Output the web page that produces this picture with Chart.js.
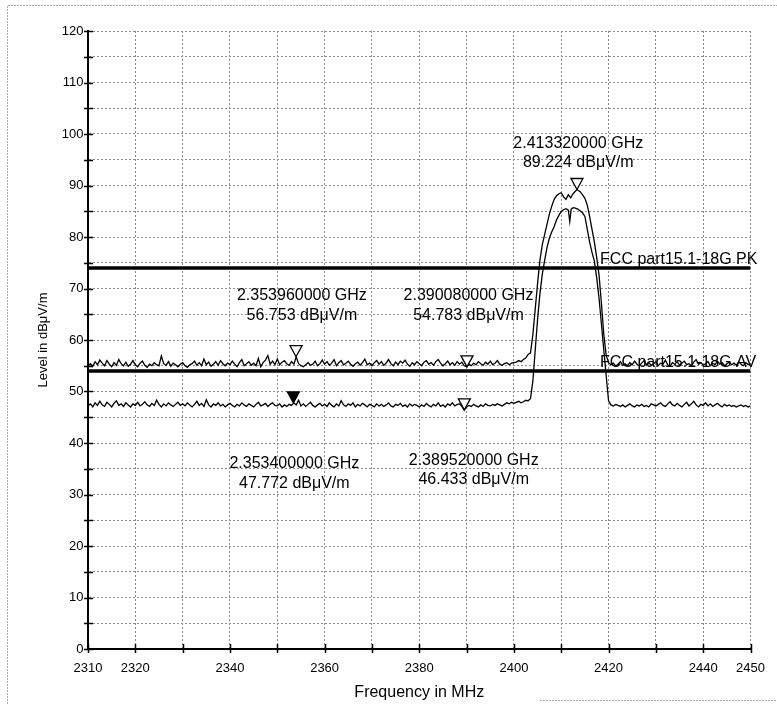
<!DOCTYPE html>
<html>
<head>
<meta charset="utf-8">
<script src="https://cdn.jsdelivr.net/npm/chart.js@4"></script>
<style>
  html, body { margin:0; padding:0; background:#fff; }
  #wrap { position:relative; width:777px; height:704px; }
</style>
</head>
<body>
<div id="wrap"><canvas id="chart"></canvas></div>
<script>
// 1) Data
const sweepStep = 0.5;          // MHz between samples of the noise floor
const leftStart = 2310;         // first sample of left noise segment
const rightStart = 2420.5;      // first sample of right noise segment

// peak detector trace
const pkLeft = [
  55.0,55.4,54.9,55.8,55.2,56.1,55.5,55.0,56.0,55.3,54.8,55.6,55.1,56.2,55.4,55.0,55.7,54.9,55.3,56.0,
  55.2,54.8,55.5,55.9,55.1,54.7,55.3,55.0,55.6,55.2,55.0,56.9,55.4,55.1,55.8,54.9,55.5,55.2,54.8,55.3,
  55.6,55.0,54.7,55.2,55.4,55.9,55.1,55.6,55.0,56.3,55.2,55.7,54.9,55.3,55.8,55.1,56.0,55.4,55.0,55.5,
  55.2,55.9,55.3,54.8,55.6,56.2,55.0,55.4,55.8,55.1,55.5,55.0,56.4,54.8,55.6,56.1,57.0,55.3,55.9,55.2,
  56.3,55.2,55.7,56.0,55.4,55.1,55.8,55.3,56.75,55.4,55.0,54.8,55.2,55.6,55.1,55.3,55.9,55.0,55.4,56.1,
  55.3,55.8,55.1,55.5,56.2,55.0,55.6,56.0,55.2,55.5,55.9,55.3,54.9,55.4,55.7,55.1,55.6,56.3,55.2,55.5,
  55.0,55.6,56.0,55.3,55.8,55.1,55.5,56.2,55.4,55.0,55.7,55.2,55.9,55.5,56.1,55.3,54.9,55.6,55.2,55.8,
  55.4,55.0,55.7,56.0,55.3,55.6,55.1,55.8,56.2,55.5,55.0,55.4,55.9,55.2,55.6,55.1,55.8,55.3,55.7,55.0,
  54.8,55.3,55.0,55.5,55.2,55.8,55.4,55.1,55.7,55.3,55.9,55.2,55.5,56.0,55.3,55.1,55.4,55.6,55.2,55.5,
  55.6,55.7,56.0,55.8,56.2,56.5,57.2,57.5
];
const pkSigFreq  = [2404,2404.5,2405,2405.5,2406,2406.5,2407,2407.5,2408,2408.5,2409,2409.5,2410,2410.5,2411,2411.5,2412,2412.5,2413.32,2414,2414.5,2415,2415.5,2416,2416.5,2417,2417.5,2418,2418.5,2419,2419.5,2420];
const pkSigLevel = [61,66,71,75.5,78.5,80.5,82.5,84.5,86,87.3,88,88.4,88.6,87.8,87.3,88.2,87.6,88.4,89.22,88.8,88.2,87.5,86.2,84,81.5,79,76,72.5,67,61,57,55.6];
const pkRight = [
  55.2,55.5,54.9,55.3,55.8,55.1,55.4,55.0,55.6,55.2,55.9,55.3,55.0,55.5,56.0,55.2,55.6,55.1,55.4,55.8,
  55.0,55.5,55.3,56.1,55.2,54.9,55.6,55.3,55.8,55.1,55.5,55.9,55.2,55.4,55.0,55.7,56.2,55.3,55.6,55.1,
  55.4,55.8,55.0,55.5,55.2,55.9,55.3,55.6,55.0,55.4,55.7,55.2,55.5,55.1,55.8,55.3,55.0,55.6,55.2,55.4
];

// average detector trace
const avLeft = [
  47.2,47.6,47.0,47.8,47.3,48.1,47.4,47.1,47.9,47.5,47.0,47.7,48.2,47.3,47.6,47.1,47.8,47.4,47.0,47.6,
  47.3,47.9,47.2,47.5,48.0,47.4,47.1,47.7,47.3,48.3,47.5,47.0,47.6,47.2,47.8,47.4,47.1,47.5,47.9,47.3,
  47.6,47.2,47.8,47.4,47.0,47.5,48.1,47.3,47.7,47.1,48.4,47.4,47.0,47.6,47.3,47.8,47.2,47.5,47.0,47.4,
  47.7,47.3,47.0,47.5,47.2,47.8,47.4,47.1,47.6,47.3,47.0,47.5,47.9,47.2,47.4,47.7,47.1,47.5,47.8,47.3,
  47.2,47.6,47.0,47.4,47.1,47.5,47.3,47.8,47.4,48.3,47.2,47.6,47.1,47.5,47.9,47.3,47.0,47.4,47.7,47.2,
  47.5,47.1,47.8,47.3,47.0,47.6,47.2,48.2,47.4,47.1,47.6,47.3,47.8,47.0,47.5,47.2,47.7,47.4,47.0,47.5,
  47.3,47.0,47.6,47.2,47.5,47.1,47.4,47.8,47.2,47.0,47.5,47.3,47.7,47.1,47.4,47.0,47.6,47.2,47.5,47.3,
  47.0,47.4,47.1,47.7,47.3,47.0,47.5,47.2,47.8,47.1,47.4,47.0,47.6,47.3,47.8,47.2,47.5,47.6,47.1,46.4,
  47.0,47.3,47.1,47.5,47.2,47.0,47.4,47.1,47.6,47.3,47.2,47.5,47.3,47.6,47.4,47.2,47.5,47.8,47.6,47.9,
  47.7,47.9,48.1,47.8,48.0,48.3,48.2,48.6
];
const avSigFreq  = [2404,2404.5,2405,2405.5,2406,2406.5,2407,2407.5,2408,2408.5,2409,2409.5,2410,2410.5,2411,2411.5,2411.8,2412.1,2412.5,2413,2413.5,2414,2414.5,2415,2415.5,2416,2416.5,2417,2417.5,2418,2418.5,2419,2419.5,2420];
const avSigLevel = [52,58,64,69,72.8,75.5,78,79.8,81,82,83.3,84.2,85,85.3,85.5,85.2,83,85.4,85.7,85.6,85.4,85.1,84.7,84,81.5,79,77,75.3,72,68,63,58,53,48.2];
const avRight = [
  47.4,47.2,47.5,47.3,47.1,47.4,47.0,47.3,47.6,47.2,47.0,47.4,47.2,47.5,47.1,47.3,47.0,47.6,47.4,47.2,
  47.5,47.8,47.3,47.1,47.6,48.0,47.4,47.2,47.7,47.3,47.0,47.5,47.9,47.2,47.6,48.1,47.4,47.0,47.5,47.3,
  47.8,47.2,47.6,47.1,47.4,47.7,47.3,47.0,47.5,47.2,47.4,47.1,47.3,47.0,47.2,47.4,47.1,47.3,47.0,47.2
];

// limit lines
const limitNames  = ['FCC part15.1-18G PK', 'FCC part15.1-18G AV'];
const limitLevels = [74, 54];

// markers
const markerFreqs  = [2413.32, 2353.96, 2390.08, 2353.40, 2389.52];
const markerLevels = [89.224, 56.753, 54.783, 47.772, 46.433];
const markerFilled = [false, false, false, true, false];

// axis ticks
const xTickValues = [2310,2320,2330,2340,2350,2360,2370,2380,2390,2400,2410,2420,2430,2440,2450];
const xTickLabels = [2310,2320,2340,2360,2380,2400,2420,2440,2450];

// 2) Layout of the text boxes (data units for the first line centre)
const markerTextPos = [
  {x: 2413.6, y: 98.2},
  {x: 2355.2, y: 68.6},
  {x: 2390.4, y: 68.6},
  {x: 2353.6, y: 36.0},
  {x: 2391.5, y: 36.6}
];
const limitTextFreq = 2418.2;
const FONT = "'Liberation Sans', Arial, sans-serif";

// 3) Helpers
function seg(start, vals){ return vals.map((v,i)=>({x: start + i*sweepStep, y: v})); }
function pairs(xs, ys){ return xs.map((x,i)=>({x, y: ys[i]})); }

const pkData = seg(leftStart, pkLeft).concat(pairs(pkSigFreq, pkSigLevel), seg(rightStart, pkRight));
const avData = seg(leftStart, avLeft).concat(pairs(avSigFreq, avSigLevel), seg(rightStart, avRight));

// 4) Plugins
const framePlugin = {
  id:'frame',
  beforeDraw(chart){
    const c = chart.ctx;
    c.save();
    c.strokeStyle = '#aaa'; c.lineWidth = 1; c.setLineDash([2,1]);
    c.beginPath();
    c.moveTo(7.5, 704); c.lineTo(7.5, 5.5); c.lineTo(777, 5.5);
    c.moveTo(540, 700.5); c.lineTo(777, 700.5);
    c.stroke();
    c.restore();
  }
};

const axisTickPlugin = {
  id:'axisTicks',
  afterDraw(chart){
    const c = chart.ctx, xs = chart.scales.x, ys = chart.scales.y;
    const a = chart.chartArea;
    c.save();
    c.strokeStyle = '#000'; c.lineWidth = 1.5;
    c.beginPath();
    ys.ticks.forEach(t => { const y = Math.round(ys.getPixelForValue(t.value)) + 0.5; c.moveTo(a.left-4, y); c.lineTo(a.left+5, y); });
    xs.ticks.forEach(t => { const x = Math.round(xs.getPixelForValue(t.value)) + 0.5; c.moveTo(x, a.bottom-5); c.lineTo(x, a.bottom+4); });
    c.stroke();
    c.restore();
  }
};

const markerPlugin = {
  id:'markers',
  afterDatasetsDraw(chart){
    const c = chart.ctx, xs = chart.scales.x, ys = chart.scales.y;
    c.save();
    // limit line names
    c.font = '16px ' + FONT; c.fillStyle = '#000';
    c.textAlign = 'left'; c.textBaseline = 'alphabetic';
    limitNames.forEach((n,i)=>{
      c.fillText(n, xs.getPixelForValue(limitTextFreq), ys.getPixelForValue(limitLevels[i]) - 4);
    });
    // marker triangles
    markerFreqs.forEach((f,i)=>{
      const px = xs.getPixelForValue(f), py = ys.getPixelForValue(markerLevels[i]);
      c.beginPath();
      c.moveTo(px, py); c.lineTo(px-6, py-11); c.lineTo(px+6, py-11); c.closePath();
      c.fillStyle = markerFilled[i] ? '#000' : '#fff';
      c.fill();
      c.lineWidth = 1.3; c.strokeStyle = '#000'; c.stroke();
    });
    // marker readouts
    c.font = '16px ' + FONT; c.fillStyle = '#000';
    c.textAlign = 'center'; c.textBaseline = 'middle';
    markerFreqs.forEach((f,i)=>{
      const p = markerTextPos[i];
      const px = xs.getPixelForValue(p.x), py = ys.getPixelForValue(p.y);
      c.fillText((f/1000).toFixed(9) + ' GHz', px, py);
      c.fillText(markerLevels[i].toFixed(3) + ' dBμV/m', px, py + 19.5);
    });
    c.restore();
  }
};

// 5) Chart
const limitSets = limitLevels.map((lv,i)=>({
  label: limitNames[i],
  data: [{x: 2310, y: lv}, {x: 2450, y: lv}],
  borderColor:'#000', borderWidth:3.5, pointRadius:0
}));

new Chart(document.getElementById('chart'), {
  type:'line',
  data:{
    datasets:[
      { label:'PK', data: pkData, borderColor:'#000', borderWidth:1.3, pointRadius:0, tension:0 },
      { label:'AV', data: avData, borderColor:'#000', borderWidth:1.3, pointRadius:0, tension:0 },
      ...limitSets
    ]
  },
  options:{
    responsive:true,
    maintainAspectRatio:false,
    animation:false,
    layout:{ padding:{ top:31, right:24, left:0, bottom:0 } },
    plugins:{ legend:{display:false}, tooltip:{enabled:false} },
    scales:{
      x:{
        type:'linear', min:2310, max:2450,
        afterBuildTicks: s => { s.ticks = xTickValues.map(v => ({value:v})); },
        afterFit: s => { s.height = 55; },
        ticks:{
          autoSkip:false, maxRotation:0, padding:12, color:'#000',
          font:{ family:FONT, size:13 },
          callback: v => xTickLabels.includes(v) ? String(v) : ''
        },
        grid:{ color:'#8c8c8c', lineWidth:1, drawTicks:false },
        border:{ color:'#000', width:2, dash:[2,2] },
        title:{ display:true, text:'Frequency in MHz', color:'#000', font:{ family:FONT, size:16 }, padding:{top:0, bottom:2} }
      },
      y:{
        min:0, max:120,
        afterFit: s => { s.width = 88; },
        ticks:{
          stepSize:5, padding:4.5, color:'#000',
          font:{ family:FONT, size:13 },
          callback: v => v % 10 === 0 ? String(v) : ''
        },
        grid:{ color:'#8c8c8c', lineWidth:1, drawTicks:false },
        border:{ color:'#000', width:2, dash:[2,2] },
        title:{ display:true, text:'Level in dBμV/m', color:'#000', font:{ family:FONT, size:13 }, padding:{top:36, bottom:0} }
      }
    }
  },
  plugins:[framePlugin, axisTickPlugin, markerPlugin]
});
</script>
</body>
</html>
